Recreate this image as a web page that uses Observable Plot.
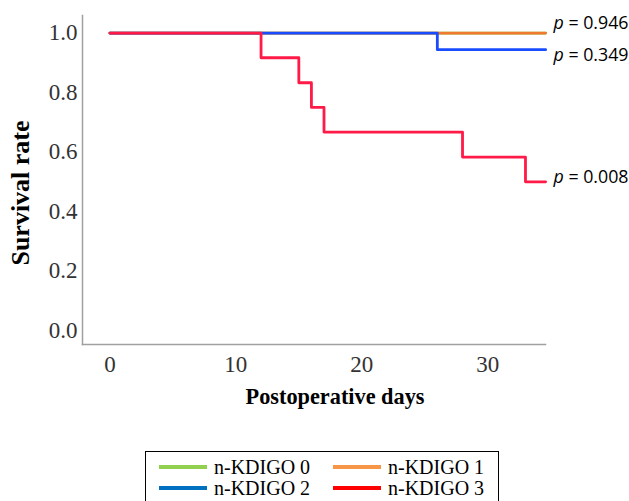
<!DOCTYPE html>
<html>
<head>
<meta charset="utf-8">
<script src="https://cdn.jsdelivr.net/npm/d3@7"></script>
<script src="https://cdn.jsdelivr.net/npm/@observablehq/plot@0.6"></script>
<style>
  html, body { margin: 0; padding: 0; background: #fff; }
  #wrap { position: relative; width: 629px; height: 501px; overflow: hidden; }
  #legend { position: absolute; left: 145px; top: 451px; width: 352px; height: 70px;
            border: 1px solid #000; background: #fff; font-family: "Liberation Serif", serif; font-size: 20px; color: #000; }
  .sw { position: absolute; width: 48px; height: 4px; }
  .lb { position: absolute; line-height: 20px; white-space: nowrap; }
</style>
</head>
<body>
<div id="wrap"></div>
<script>
// ---- data ----
const groups = ["n-KDIGO 0", "n-KDIGO 1", "n-KDIGO 2", "n-KDIGO 3"];
const lineColors = ["#8ccf4d", "#f07b2f", "#1a4cff", "#ff1a47"];
const legendColors = ["#92d050", "#f79646", "#0070c0", "#ff0000"];
const days0 = [0, 34.6];
const surv0 = [1, 1];
const days1 = [0, 34.6];
const surv1 = [1, 1];
const days2 = [0, 26, 34.6];
const surv2 = [1, 0.944, 0.944];
const days3 = [0, 12, 15, 16, 17, 28, 33, 34.6];
const surv3 = [1, 0.917, 0.833, 0.75, 0.667, 0.583, 0.5, 0.5];
const pGroups = ["n-KDIGO 1", "n-KDIGO 2", "n-KDIGO 3"];
const pValues = ["0.946", "0.349", "0.008"];
const xTicks = [0, 10, 20, 30];
const yTicks = [0, 0.2, 0.4, 0.6, 0.8, 1.0];
const xTitle = "Postoperative days";
const yTitle = "Survival rate";

const allDays = [days0, days1, days2, days3];
const allSurv = [surv0, surv1, surv2, surv3];
const curves = groups.map((g, i) => allDays[i].map((d, j) => ({group: g, day: d, surv: allSurv[i][j]})));
const rows = curves.flat();
const ends = pGroups.map((g, i) => {
  const c = curves[groups.indexOf(g)];
  const last = c[c.length - 1];
  return {group: g, day: last.day, surv: last.surv, label: "p = " + pValues[i]};
});

const xDomain = [-2.18, 34.59];
const yDomain = [-0.047, 1.059];
const pOffsets = {"n-KDIGO 1": -10, "n-KDIGO 2": 6, "n-KDIGO 3": -4};

const plot = Plot.plot({
  width: 629,
  height: 440,
  marginLeft: 82,
  marginRight: 84,
  marginTop: 15,
  marginBottom: 96,
  style: {fontFamily: "Liberation Serif, serif", fontSize: "23px", color: "#333", background: "#fff"},
  x: {domain: xDomain, ticks: xTicks, tickSize: 0, tickPadding: 11, label: null},
  y: {domain: yDomain, ticks: yTicks, tickSize: 0, tickPadding: 5, tickFormat: d3.format(".1f"), label: null},
  color: {domain: groups, range: lineColors},
  marks: [
    Plot.frame({anchor: "left", stroke: "#a0a0a0", strokeWidth: 1.5}),
    Plot.frame({anchor: "bottom", stroke: "#a0a0a0", strokeWidth: 1.5}),
    ...groups.map(g => Plot.line(rows.filter(r => r.group === g), {
      x: "day", y: "surv", stroke: "group", strokeWidth: 2.8, curve: "step-after"
    })),
    ...ends.map(e => Plot.text([e], {
      x: xDomain[1], y: "surv", text: "label", textAnchor: "start", dx: 8, dy: pOffsets[e.group],
      fontFamily: "Open Sans, sans-serif", fontSize: 17.8, fill: "#000", className: "pval"
    })),
    Plot.text([xTitle], {text: d => d, frameAnchor: "bottom", textAnchor: "middle", dx: 21, dy: 59,
      fontWeight: "bold", fontSize: 22.3, fill: "#000"}),
    Plot.text([yTitle], {text: d => d, frameAnchor: "left", textAnchor: "middle", rotate: -90, dx: -62, dy: 13,
      fontWeight: "bold", fontSize: 26, fill: "#000"})
  ]
});

document.getElementById("wrap").appendChild(plot);

// italic "p" in the p-value labels
d3.select(plot).selectAll("g.pval text").each(function() {
  const t = this.textContent;
  const rest = t.slice(1);
  this.textContent = "";
  d3.select(this).append("tspan").attr("font-style", "italic").text("p");
  d3.select(this).append("tspan").text(rest);
});

// legend
const legend = document.createElement("div");
legend.id = "legend";
const pos = [[13, 15], [187, 15], [13, 36], [187, 36]];
groups.forEach((g, i) => {
  const [lx, cy] = pos[i];
  const sw = document.createElement("div");
  sw.className = "sw";
  sw.style.left = lx + "px";
  sw.style.top = (cy - 2) + "px";
  sw.style.background = legendColors[i];
  legend.appendChild(sw);
  const lb = document.createElement("div");
  lb.className = "lb";
  lb.style.left = (lx + 55) + "px";
  lb.style.top = (cy - 10) + "px";
  lb.textContent = g;
  legend.appendChild(lb);
});
document.getElementById("wrap").appendChild(legend);
</script>
</body>
</html>
